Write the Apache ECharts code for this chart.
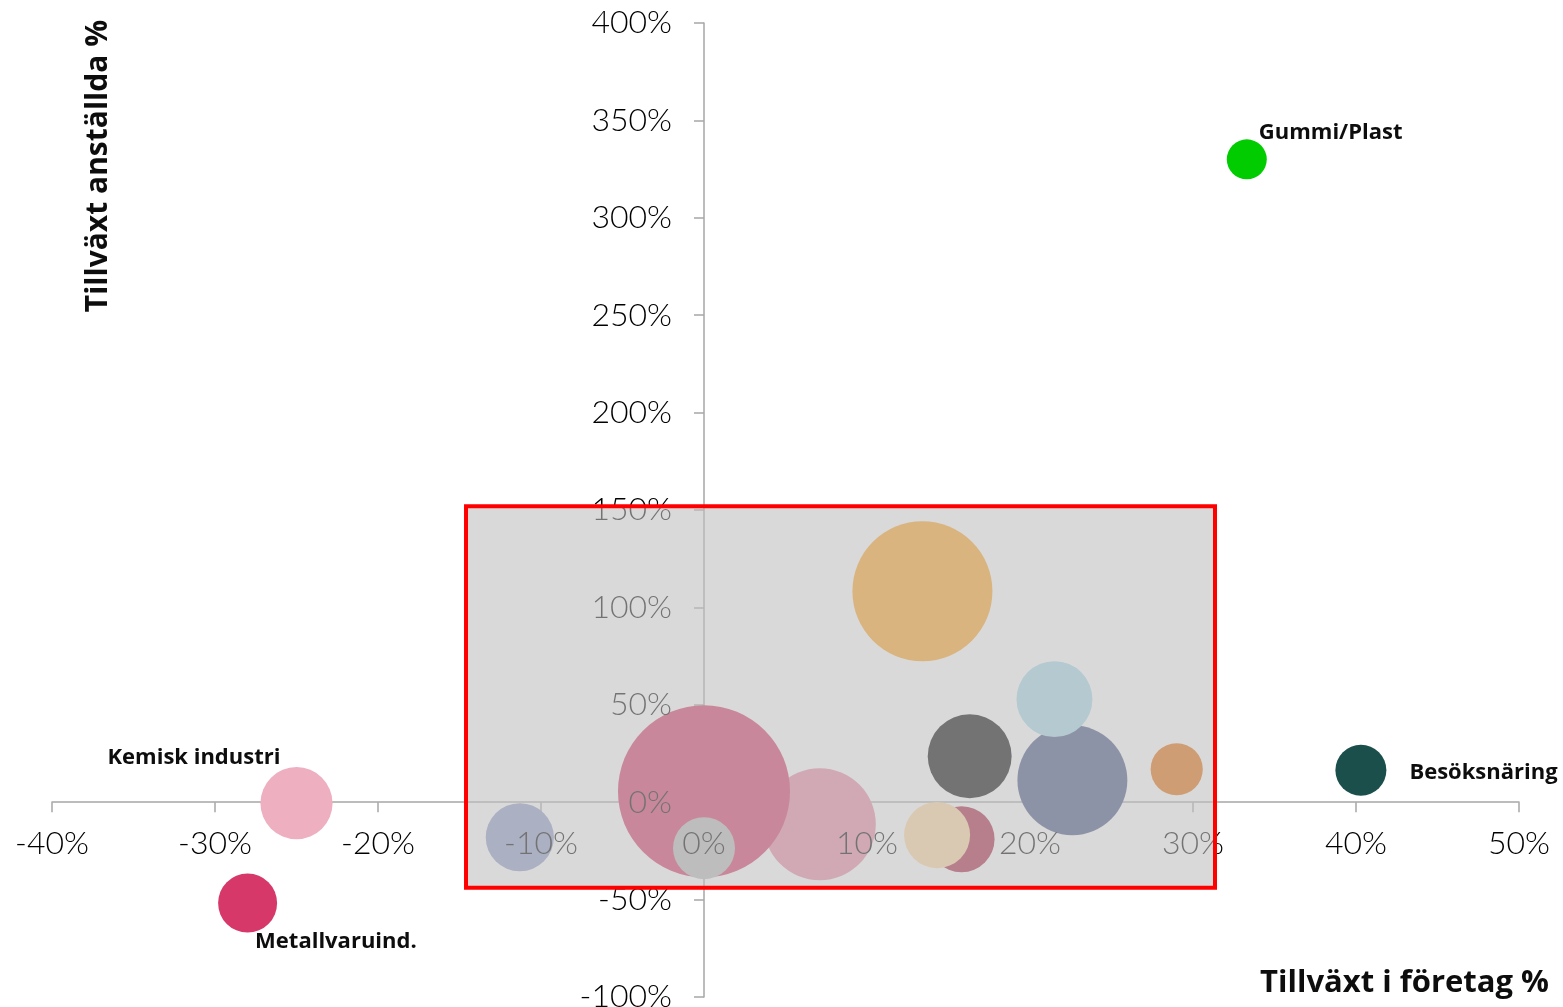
<!DOCTYPE html>
<html>
<head>
<meta charset="utf-8">
<script src="https://cdn.jsdelivr.net/npm/echarts@6/dist/echarts.min.js"></script>
<style>
html, body { margin: 0; padding: 0; background: #fff; }
#chart { width: 1563px; height: 1007px; }
</style>
</head>
<body>
<div id="chart"></div>
<script>
// bransch-data (tillväxt i företag %, tillväxt anställda %, bubbelstorlek)
var branscher = ['', '', '', '', '', '', '', '', '', '', '', 'Gummi/Plast', 'Besöksnäring', 'Kemisk industri', 'Metallvaruind.'];
var tillvaxtForetag = [7.1, 0, 0, -11.3, 13.4, 22.6, 21.5, 16.3, 29.0, 15.8, 14.3, 33.3, 40.3, -25.0, -28.0];
var tillvaxtAnstallda = [-11.3, 5.6, -23.6, -18, 108.3, 11.3, 52.9, 23.6, 16.9, -19, -16.9, 330, 16.4, -0.5, -51.8];
var storlek = [314, 740, 96, 116, 490, 302, 144, 176, 68, 109, 109, 40, 65, 130, 87];
var farger = ['#E887A5', '#D43461', '#B9B9B9', '#8C98C5', '#FFA21E', '#43507F', '#A5D7E8', '#000000',
              '#E66902', '#A71E3E', '#FFD79D', '#00CC00', '#1B4F4C', '#EEAFC0', '#D6386A'];

// markerat område
var omradeX = [-14.6, 31.35];
var omradeY = [151.9, -43.9];

// etikettplacering för namngivna bubblor
var etikettPos = {
    'Gummi/Plast': { position: 'right', offset: [-13, -27] },
    'Besöksnäring': { position: 'right', offset: [18, 2] },
    'Kemisk industri': { position: 'left', offset: [25, -45] },
    'Metallvaruind.': { position: 'right', offset: [-27, 39] }
};

var chart = echarts.init(document.getElementById('chart'));

var punkter = [];
for (var i = 0; i < branscher.length; i++) {
    var p = {
        name: branscher[i],
        value: [tillvaxtForetag[i], tillvaxtAnstallda[i], storlek[i]],
        itemStyle: { color: farger[i], opacity: 1 }
    };
    if (etikettPos[branscher[i]]) {
        p.label = {
            show: true,
            position: etikettPos[branscher[i]].position,
            offset: etikettPos[branscher[i]].offset,
            formatter: '{b}',
            fontFamily: 'Open Sans',
            fontWeight: 'bold',
            fontSize: 22,
            color: '#0d0d0d'
        };
    }
    punkter.push(p);
}

var gridLeft = 52, gridBottom = 10;
var axelFarg = '#a6a6a6';
var etikettStil = {
    fontFamily: 'Lato',
    fontWeight: 300,
    fontSize: 32,
    color: '#000'
};
function procent(v) { return v + '%'; }

var option = {
    animation: false,
    grid: { left: gridLeft, right: 44, top: 23, bottom: gridBottom, outerBoundsMode: 'none', containLabel: false },
    xAxis: [
        {
            // linje och streck (under bubblorna)
            type: 'value', position: 'bottom', min: -40, max: 50, interval: 10, z: 0,
            axisLine: { onZero: true, onZeroAxisIndex: 0, lineStyle: { color: axelFarg, width: 1.5 } },
            axisTick: { show: true, length: 10, lineStyle: { color: axelFarg, width: 1.5 } },
            axisLabel: { show: false },
            splitLine: { show: false }
        },
        {
            // etiketter (över bubblorna)
            type: 'value', position: 'bottom', min: -40, max: 50, interval: 10, z: 3,
            axisLine: { show: false, onZero: false },
            axisTick: { show: false },
            axisLabel: Object.assign({ margin: 25, showMinLabel: true, showMaxLabel: true, formatter: procent }, etikettStil),
            splitLine: { show: false }
        }
    ],
    yAxis: [
        {
            type: 'value', position: 'left', min: -100, max: 400, interval: 50, z: 0,
            axisLine: { show: true, onZero: true, onZeroAxisIndex: 0, lineStyle: { color: axelFarg, width: 1.5 } },
            axisTick: { show: true, length: 10, lineStyle: { color: axelFarg, width: 1.5 } },
            axisLabel: { show: false },
            splitLine: { show: false }
        },
        {
            type: 'value', position: 'left', min: -100, max: 400, interval: 50, z: 3,
            axisLine: { show: false, onZero: false },
            axisTick: { show: false },
            axisLabel: Object.assign({ margin: 32, showMinLabel: true, showMaxLabel: true, formatter: procent }, etikettStil),
            splitLine: { show: false }
        }
    ],
    series: [
        {
            type: 'scatter',
            xAxisIndex: 0,
            yAxisIndex: 0,
            z: 2,
            data: punkter,
            symbolSize: function (val) { return Math.sqrt(val[2] * 10) * 2; },
            emphasis: { disabled: true }
        },
        {
            // tom serie för etikettaxlarna
            type: 'scatter',
            xAxisIndex: 1,
            yAxisIndex: 1,
            data: [],
            silent: true
        },
        {
            // halvgenomskinlig markering ovanpå allt
            type: 'scatter',
            xAxisIndex: 0,
            yAxisIndex: 0,
            z: 10,
            data: [],
            silent: true,
            markArea: {
                z: 10,
                silent: true,
                label: { show: false },
                itemStyle: {
                    color: 'rgba(192,192,192,0.6)',
                    borderColor: '#ff0000',
                    borderWidth: 4
                },
                data: [[
                    { coord: [omradeX[0], omradeY[0]] },
                    { coord: [omradeX[1], omradeY[1]] }
                ]]
            }
        }
    ],
    graphic: [
        {
            type: 'text',
            x: 98, y: 166,
            rotation: Math.PI / 2,
            style: {
                text: 'Tillväxt anställda %',
                fontFamily: 'Open Sans', fontWeight: 'bold', fontSize: 30,
                fill: '#0d0d0d', align: 'center', verticalAlign: 'middle'
            }
        },
        {
            type: 'text',
            x: 1549, y: 983,
            style: {
                text: 'Tillväxt i företag %',
                fontFamily: 'Open Sans', fontWeight: 'bold', fontSize: 31,
                fill: '#0d0d0d', align: 'right', verticalAlign: 'middle'
            }
        }
    ]
};

chart.setOption(option);

// flytta etikettaxlarna till nollpunkten
var noll = chart.convertToPixel({ xAxisIndex: 0, yAxisIndex: 0 }, [0, 0]);
chart.setOption({
    xAxis: [{}, { offset: noll[1] - (chart.getHeight() - gridBottom) }],
    yAxis: [{}, { offset: gridLeft - noll[0] }]
});
</script>
</body>
</html>
